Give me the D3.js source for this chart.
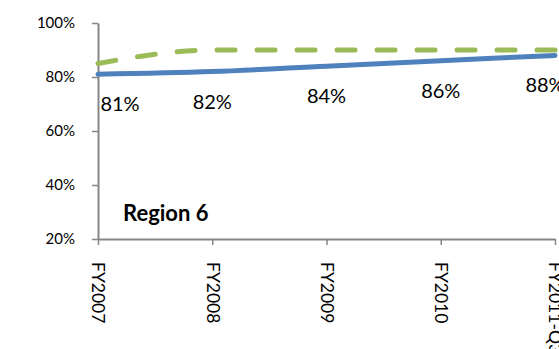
<!DOCTYPE html>
<html>
<head>
  <meta charset="utf-8">
  <title>Region 6</title>
  <script src="https://d3js.org/d3.v7.min.js"></script>
  <style>
    body { margin: 0; overflow: hidden; background: #fff; }
    svg { display: block; }
    text { font-family: Lato, "Open Sans", sans-serif; }
  </style>
</head>
<body>
  <svg width="559" height="349"></svg>

  <script>
    // 数据
    const categories = ["FY2007", "FY2008", "FY2009", "FY2010", "FY2011-Q3"];
    const actual = [0.81, 0.82, 0.84, 0.86, 0.88];
    const target = [0.85, 0.90, 0.90, 0.90, 0.90];
    const yTicks = [0.2, 0.4, 0.6, 0.8, 1.0];
    const title = "Region 6";

    const svg = d3.select("svg");
    const g = svg.append("g");

    const x = d3.scalePoint().domain(categories).range([98, 555]);
    const y = d3.scaleLinear().domain([0.2, 1.0]).range([239, 23]);

    const axisColor = "#868686";

    // y 轴
    const yAxis = g.append("g")
      .attr("transform", "translate(98,0)")
      .call(d3.axisLeft(y).tickValues(yTicks).tickFormat(d3.format(".0%"))
        .tickSize(6).tickSizeOuter(0).tickPadding(17));
    yAxis.select(".domain").attr("stroke", axisColor).attr("stroke-width", 2);
    yAxis.selectAll(".tick line").attr("stroke", axisColor).attr("stroke-width", 1.5);
    yAxis.selectAll(".tick text")
      .attr("fill", "#000")
      .style("font-size", "15px");

    // x 轴
    const xAxis = g.append("g")
      .attr("transform", "translate(0,239)")
      .call(d3.axisBottom(x).tickSize(6).tickSizeOuter(0));
    xAxis.select(".domain").attr("stroke", axisColor).attr("stroke-width", 2);
    xAxis.selectAll(".tick line").attr("stroke", axisColor).attr("stroke-width", 1.5);
    xAxis.selectAll(".tick text")
      .attr("fill", "#000")
      .style("font-size", "17.5px")
      .attr("text-anchor", "start")
      .attr("dy", "0.35em")
      .attr("x", 0)
      .attr("y", 0)
      .attr("transform", "translate(0,23) rotate(90)");

    const line = d3.line()
      .x((d, i) => x(categories[i]))
      .y(d => y(d))
      .curve(d3.curveMonotoneX);

    // 目标线（虚线）
    g.append("path")
      .attr("d", line(target))
      .attr("fill", "none")
      .attr("stroke", "#9BBB59")
      .attr("stroke-width", 5)
      .attr("stroke-linecap", "round")
      .attr("stroke-dasharray", "18,22");

    // 实际线
    g.append("path")
      .attr("d", line(actual))
      .attr("fill", "none")
      .attr("stroke", "#4F81BD")
      .attr("stroke-width", 5)
      .attr("stroke-linecap", "round");

    // 数据标签
    const labelShift = [22, 0, 0, 0, -10];
    g.selectAll(".lbl")
      .data(actual)
      .enter().append("text")
      .attr("class", "lbl")
      .attr("x", (d, i) => x(categories[i]) + labelShift[i])
      .attr("y", d => y(d) + 37)
      .attr("text-anchor", "middle")
      .style("font-size", "20px")
      .text(d => d3.format(".0%")(d));

    // 标题
    g.append("text")
      .attr("x", 123)
      .attr("y", 221)
      .style("font-size", "22px")
      .style("font-weight", "bold")
      .text(title);
  </script>
</body>
</html>
